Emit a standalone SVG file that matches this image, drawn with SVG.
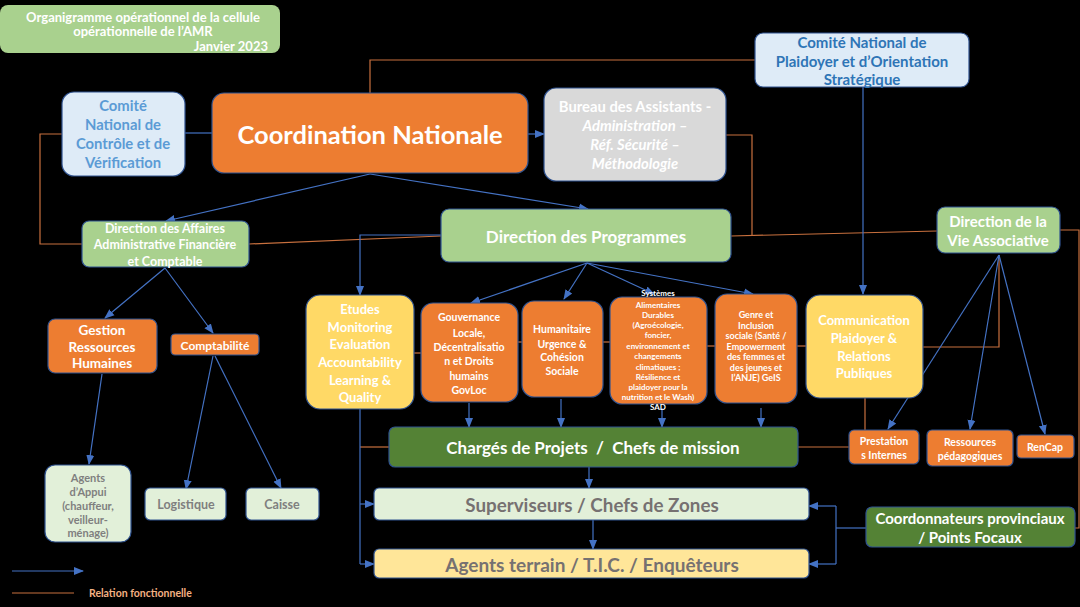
<svg xmlns="http://www.w3.org/2000/svg" width="1080" height="607" viewBox="0 0 1080 607">
<defs>
<marker id="ah" markerUnits="userSpaceOnUse" markerWidth="10" markerHeight="10" viewBox="0 0 10 10" refX="9" refY="5" orient="auto">
<path d="M0,1 L10,5 L0,9 z" fill="#4472c4"/>
</marker>
<style>
text{font-family:Lato,"Liberation Sans",sans-serif;font-weight:bold;text-anchor:middle;dominant-baseline:central}
.bl{stroke:#4472c4;stroke-width:1.2;fill:none}
.ba{stroke:#4472c4;stroke-width:1.2;fill:none;marker-end:url(#ah)}
.or{stroke:#c8703e;stroke-width:1.2;fill:none}
.box{stroke:#2f528f;stroke-width:1.2}
.green{fill:#a9d18e}
.orange{fill:#ed7d31}
.yellow{fill:#ffd966}
.lblue{fill:#deebf7}
.grey{fill:#d9d9d9}
.pale{fill:#e2f0d9}
.dgreen{fill:#548235}
.lyel{fill:#ffe699}
.w{fill:#ffffff}
.bt{fill:#5b9bd5}
.bt2{fill:#2e75b6}
.gt{fill:#767171}
</style>
</defs>
<rect x="0" y="0" width="1080" height="607" fill="#000000"/>

<g id="connectors">
<!-- functional (orange) -->
<polyline class="or" points="370,93 370,60 755,60"/>
<polyline class="or" points="62,134 40,134 40,244 82,244"/>
<line class="or" x1="249" y1="244" x2="441" y2="236"/>
<polyline class="or" points="726,135 752,135 752,236"/>
<line class="or" x1="731" y1="236" x2="937" y2="231"/>
<line class="or" x1="414" y1="353" x2="421" y2="353"/>
<line class="or" x1="518" y1="342" x2="522" y2="342"/>
<line class="or" x1="603" y1="342" x2="610" y2="342"/>
<line class="or" x1="707" y1="346" x2="715" y2="346"/>
<line class="or" x1="797" y1="346" x2="806" y2="346"/>
<polyline class="or" points="923,347 999,347 999,255"/>
<polyline class="or" points="1060,230 1079,230 1079,528 1075,528"/>
<line class="or" x1="798" y1="447" x2="849" y2="447"/>
<line class="or" x1="865" y1="398" x2="865" y2="430"/>
<line class="or" x1="360" y1="447" x2="389" y2="447"/>
<!-- hierarchical (blue) -->
<line class="bl" x1="185" y1="133" x2="212" y2="133"/>
<line class="ba" x1="528" y1="134" x2="544" y2="134"/>
<line class="ba" x1="370" y1="174" x2="166" y2="221"/>
<line class="ba" x1="370" y1="174" x2="588" y2="209"/>
<polyline class="ba" points="863,87 863,294"/>
<polyline class="ba" points="441,235 360,235 360,295"/>
<line class="ba" x1="587" y1="263" x2="471" y2="303"/>
<line class="ba" x1="587" y1="263" x2="564" y2="299"/>
<line class="ba" x1="587" y1="263" x2="654" y2="294"/>
<line class="ba" x1="587" y1="263" x2="753" y2="294"/>
<line class="ba" x1="165" y1="268" x2="105" y2="318"/>
<line class="ba" x1="165" y1="268" x2="213" y2="333"/>
<line class="ba" x1="102" y1="374" x2="89" y2="464"/>
<line class="ba" x1="213" y1="356" x2="186" y2="489"/>
<line class="ba" x1="215" y1="356" x2="281" y2="488"/>
<polyline class="bl" points="360,409 360,564"/>
<line class="ba" x1="360" y1="504" x2="374" y2="504"/>
<line class="ba" x1="360" y1="564" x2="374" y2="564"/>
<line class="ba" x1="469" y1="403" x2="469" y2="427"/>
<line class="ba" x1="561" y1="399" x2="561" y2="427"/>
<line class="ba" x1="662" y1="408" x2="662" y2="427"/>
<line class="ba" x1="761" y1="408" x2="761" y2="427"/>
<line class="ba" x1="589" y1="467" x2="589" y2="488"/>
<line class="ba" x1="593" y1="520" x2="593" y2="549"/>
<line class="ba" x1="999" y1="255" x2="888" y2="429"/>
<line class="ba" x1="999" y1="255" x2="970" y2="429"/>
<line class="ba" x1="999" y1="255" x2="1045" y2="434"/>
<polyline class="bl" points="866,528 836,528"/>
<line class="ba" x1="836" y1="506" x2="809" y2="506"/>
<polyline class="bl" points="836,506 836,564"/>
<line class="ba" x1="836" y1="564" x2="809" y2="564"/>
<!-- legend -->
<line class="ba" x1="12" y1="571" x2="83" y2="571"/>
<line class="or" x1="12" y1="593" x2="74" y2="593"/>
</g>

<g id="title">
<rect x="0" y="5" width="280" height="48" rx="8" class="green"/>
<text x="143" y="17" font-size="13" class="w">Organigramme opérationnel de la cellule</text>
<text x="143" y="31" font-size="13" class="w">opérationnelle de l’AMR</text>
<text x="268" y="46" font-size="13" class="w" style="text-anchor:end">Janvier 2023</text>
</g>

<g id="comite-controle">
<rect x="62" y="92" width="123" height="84" rx="12" class="box lblue"/>
<text x="123" y="105" font-size="14.8" class="bt">Comité</text>
<text x="123" y="124" font-size="14.8" class="bt">National de</text>
<text x="123" y="143" font-size="14.8" class="bt">Contrôle et de</text>
<text x="123" y="162" font-size="14.8" class="bt">Vérification</text>
</g>

<g id="coordination">
<rect x="212" y="93" width="316" height="80" rx="12" class="box orange"/>
<text x="370" y="134" font-size="25.5" class="w">Coordination Nationale</text>
</g>

<g id="bureau">
<rect x="544" y="88" width="182" height="93" rx="12" class="box grey"/>
<text x="635" y="106" font-size="14.8" class="w">Bureau des Assistants -</text>
<text x="635" y="125" font-size="14.8" class="w" font-style="italic">Administration –</text>
<text x="635" y="144" font-size="14.8" class="w" font-style="italic">Réf. Sécurité –</text>
<text x="635" y="163" font-size="14.8" class="w" font-style="italic">Méthodologie</text>
</g>

<g id="comite-plaidoyer">
<rect x="755" y="33" width="214" height="54" rx="8" class="box lblue"/>
<text x="862" y="42" font-size="15" class="bt2">Comité National de</text>
<text x="862" y="61" font-size="15" class="bt2">Plaidoyer et d’Orientation</text>
<text x="862" y="79" font-size="15" class="bt2">Stratégique</text>
</g>

<g id="daafc">
<rect x="82" y="221" width="167" height="46" rx="7" class="box green"/>
<text x="165" y="228" font-size="12.5" class="w">Direction des Affaires</text>
<text x="165" y="244" font-size="12.5" class="w">Administrative Financière</text>
<text x="165" y="261" font-size="12.5" class="w">et Comptable</text>
</g>

<g id="direction-programmes">
<rect x="441" y="209" width="290" height="53" rx="8" class="box green"/>
<text x="586" y="236" font-size="17" class="w">Direction des Programmes</text>
</g>

<g id="direction-vie-associative">
<rect x="937" y="207" width="123" height="46" rx="8" class="box green"/>
<text x="998" y="221" font-size="15" class="w">Direction de la</text>
<text x="998" y="240" font-size="15" class="w">Vie Associative</text>
</g>

<g id="grh">
<rect x="48" y="319" width="109" height="54" rx="7" class="box orange"/>
<text x="102" y="330" font-size="13.5" class="w">Gestion</text>
<text x="102" y="347" font-size="13.5" class="w">Ressources</text>
<text x="102" y="363" font-size="13.5" class="w">Humaines</text>
</g>

<g id="comptabilite">
<rect x="171" y="334" width="88" height="21" rx="4" class="box orange"/>
<text x="215" y="345" font-size="12" class="w">Comptabilité</text>
</g>

<g id="agents-appui">
<rect x="45" y="465" width="86" height="77" rx="10" class="box pale"/>
<text x="88" y="477" font-size="11" fill="#7f7f7f">Agents</text>
<text x="88" y="491" font-size="11" fill="#7f7f7f">d’Appui</text>
<text x="88" y="505" font-size="11" fill="#7f7f7f">(chauffeur,</text>
<text x="88" y="519" font-size="11" fill="#7f7f7f">veilleur-</text>
<text x="88" y="532" font-size="11" fill="#7f7f7f">ménage)</text>
</g>

<g id="logistique">
<rect x="145" y="488" width="81" height="32" rx="5" class="box pale"/>
<text x="186" y="504" font-size="12.5" fill="#7f7f7f">Logistique</text>
</g>

<g id="caisse">
<rect x="246" y="488" width="73" height="32" rx="5" class="box pale"/>
<text x="282" y="504" font-size="12.5" fill="#7f7f7f">Caisse</text>
</g>

<g id="etudes">
<rect x="306" y="295" width="108" height="114" rx="14" class="box yellow"/>
<text x="360" y="309" font-size="13" class="w">Etudes</text>
<text x="360" y="327" font-size="13" class="w">Monitoring</text>
<text x="360" y="344" font-size="13" class="w">Evaluation</text>
<text x="360" y="362" font-size="13" class="w">Accountability</text>
<text x="360" y="380" font-size="13" class="w">Learning &amp;</text>
<text x="360" y="397" font-size="13" class="w">Quality</text>
</g>

<g id="gouvernance">
<rect x="421" y="303" width="97" height="99" rx="12" class="box orange"/>
<text x="469" y="317" font-size="10.5" class="w">Gouvernance</text>
<text x="469" y="333" font-size="10.5" class="w">Locale,</text>
<text x="469" y="347" font-size="10.5" class="w">Décentralisatio</text>
<text x="469" y="361" font-size="10.5" class="w">n et Droits</text>
<text x="469" y="376" font-size="10.5" class="w">humains</text>
<text x="469" y="390" font-size="10.5" class="w">GovLoc</text>
</g>

<g id="humanitaire">
<rect x="522" y="301" width="81" height="96" rx="12" class="box orange"/>
<text x="562" y="329" font-size="10.5" class="w">Humanitaire</text>
<text x="562" y="344" font-size="10.5" class="w">Urgence &amp;</text>
<text x="562" y="357" font-size="10.5" class="w">Cohésion</text>
<text x="562" y="371" font-size="10.5" class="w">Sociale</text>
</g>

<g id="systemes-alimentaires">
<rect x="610" y="297" width="97" height="107" rx="12" class="box orange"/>
<text x="658" y="293" font-size="8" class="w">Systèmes</text>
<text x="658" y="305" font-size="8" class="w" font-weight="normal">Alimentaires</text>
<text x="658" y="315" font-size="8" class="w" font-weight="normal">Durables</text>
<text x="658" y="325" font-size="8" class="w" font-weight="normal">(Agroécologie,</text>
<text x="658" y="335" font-size="8" class="w" font-weight="normal">foncier,</text>
<text x="658" y="346" font-size="8" class="w" font-weight="normal">environnement et</text>
<text x="658" y="356" font-size="8" class="w" font-weight="normal">changements</text>
<text x="658" y="367" font-size="8" class="w" font-weight="normal">climatiques ;</text>
<text x="658" y="377" font-size="8" class="w" font-weight="normal">Résilience et</text>
<text x="658" y="387" font-size="8" class="w" font-weight="normal">plaidoyer pour  la</text>
<text x="658" y="397" font-size="8" class="w" font-weight="normal">nutrition et le Wash)</text>
<text x="658" y="407" font-size="8" class="w">SAD</text>
</g>

<g id="genre">
<rect x="715" y="294" width="82" height="109" rx="12" class="box orange"/>
<text x="756" y="314" font-size="9" class="w">Genre et</text>
<text x="756" y="325" font-size="9" class="w">Inclusion</text>
<text x="756" y="335" font-size="9" class="w">sociale (Santé /</text>
<text x="756" y="346" font-size="9" class="w">Empowerment</text>
<text x="756" y="356" font-size="9" class="w">des femmes et</text>
<text x="756" y="367" font-size="9" class="w">des jeunes et</text>
<text x="756" y="377" font-size="9" class="w">l’ANJE) GeIS</text>
</g>

<g id="communication">
<rect x="806" y="295" width="117" height="103" rx="14" class="box yellow"/>
<text x="864" y="320" font-size="13" class="w">Communication</text>
<text x="864" y="338" font-size="13" class="w">Plaidoyer &amp;</text>
<text x="864" y="356" font-size="13" class="w">Relations</text>
<text x="864" y="373" font-size="13" class="w">Publiques</text>
</g>

<g id="charges-projets">
<rect x="389" y="427" width="409" height="40" rx="6" class="box dgreen"/>
<text x="593" y="447" font-size="17" class="w" xml:space="preserve">Chargés de Projets  /  Chefs de mission</text>
</g>

<g id="prestations">
<rect x="849" y="430" width="70" height="34" rx="5" class="box orange"/>
<text x="884" y="441" font-size="10.5" class="w">Prestation</text>
<text x="884" y="455" font-size="10.5" class="w">s Internes</text>
</g>

<g id="ressources-pedagogiques">
<rect x="927" y="430" width="86" height="36" rx="5" class="box orange"/>
<text x="970" y="442" font-size="10.5" class="w">Ressources</text>
<text x="970" y="456" font-size="10.5" class="w">pédagogiques</text>
</g>

<g id="rencap">
<rect x="1017" y="435" width="57" height="23" rx="4" class="box orange"/>
<text x="1045" y="447" font-size="10.5" class="w">RenCap</text>
</g>

<g id="superviseurs">
<rect x="374" y="488" width="435" height="32" rx="5" class="box pale"/>
<text x="592" y="504" font-size="18.8" class="gt">Superviseurs / Chefs de Zones</text>
</g>

<g id="agents-terrain">
<rect x="374" y="549" width="435" height="29" rx="5" class="box lyel"/>
<text x="592" y="564" font-size="19" class="gt">Agents terrain / T.I.C. / Enquêteurs</text>
</g>

<g id="coordonnateurs">
<rect x="866" y="507" width="209" height="40" rx="6" class="box dgreen"/>
<text x="970" y="518" font-size="15" class="w">Coordonnateurs provinciaux</text>
<text x="970" y="537" font-size="15" class="w">/ Points Focaux</text>
</g>

<g id="legend">
<text x="89" y="593" font-size="10.5" fill="#f4b183" style="text-anchor:start">Relation fonctionnelle</text>
</g>
</svg>
